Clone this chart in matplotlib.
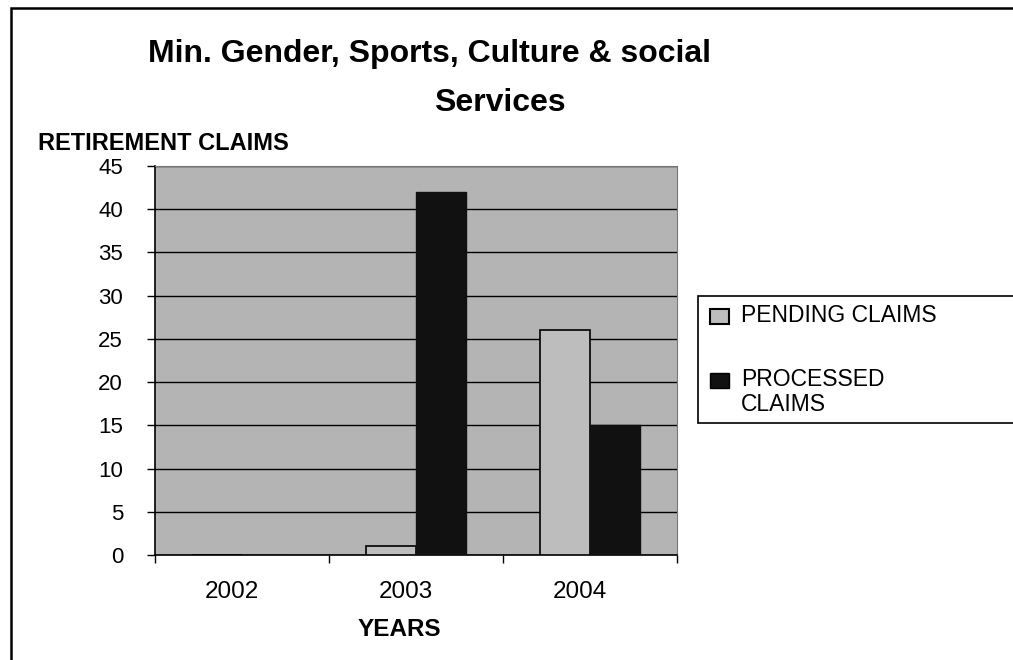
import matplotlib
matplotlib.use("Agg")
import matplotlib.pyplot as plt
from matplotlib.patches import Rectangle
from matplotlib.transforms import ScaledTranslation
import numpy as np

plt.rcParams['font.family'] = ['Liberation Sans', 'DejaVu Sans']

years = ["2002", "2003", "2004"]
pending = [0, 1, 26]
processed = [0, 42, 15]
series_labels = ["PENDING CLAIMS", "PROCESSED\nCLAIMS"]
yticks = [0, 5, 10, 15, 20, 25, 30, 35, 40, 45]

pend_color = "#bdbdbd"
proc_color = "#111111"

W, H = 1013, 660
fig = plt.figure(figsize=(W / 100, H / 100), dpi=100)
fig.patch.set_facecolor("white")


def fx(x):
    return x / W


def fy(y):
    return 1 - y / H


# outer frame (runs off the right and bottom edges)
fig.patches.append(Rectangle((fx(11), fy(700)), fx(1040 - 11), (700 - 8) / H,
                             transform=fig.transFigure, fill=False,
                             edgecolor="black", linewidth=1.8))

ax = fig.add_axes([fx(155), fy(555), fx(677 - 155), (555 - 166) / H])
ax.set_facecolor("#b4b4b4")

x = np.arange(len(years))
w = 0.29
ax.bar(x - 0.145, pending, width=w, color=pend_color, edgecolor="black",
       linewidth=1.2, zorder=3)
ax.bar(x + 0.145, processed, width=w, color=proc_color, edgecolor=proc_color,
       linewidth=1.0, zorder=3)

ax.set_xlim(-0.5, 2.5)
ax.set_ylim(0, 45)
ax.set_yticks(yticks)
ax.yaxis.grid(True, color="black", linewidth=1.0, zorder=1)
ax.set_axisbelow(True)
ax.tick_params(axis="y", direction="out", length=6, width=1, pad=17, labelsize=16)

ax.set_xticks(x)
ax.set_xticklabels(years)
ax.set_xticks([-0.5, 0.5, 1.5, 2.5], minor=True)
ax.tick_params(axis="x", which="major", length=0, pad=19, labelsize=17.5)
ax.tick_params(axis="x", which="minor", direction="out", length=6, width=1)
shift = ScaledTranslation(-10 / 100, 0, fig.dpi_scale_trans)
for lbl in ax.get_xticklabels():
    lbl.set_transform(lbl.get_transform() + shift)

for s in ["left", "bottom"]:
    ax.spines[s].set_color("black")
    ax.spines[s].set_linewidth(1.2)
for s in ["top", "right"]:
    ax.spines[s].set_color("#777777")
    ax.spines[s].set_linewidth(0.8)

fig.text(fx(148), fy(62), "Min. Gender, Sports, Culture & social",
         fontsize=23, fontweight="bold", ha="left", va="baseline")
fig.text(fx(500), fy(111), "Services",
         fontsize=23, fontweight="bold", ha="center", va="baseline")
fig.text(fx(38), fy(143), "RETIREMENT CLAIMS",
         fontsize=17, fontweight="bold", ha="left", va="center")
fig.text(fx(399), fy(630), "YEARS",
         fontsize=17.5, fontweight="bold", ha="center", va="center")

# legend box (extends past right edge, as in the original)
fig.patches.append(Rectangle((fx(698), fy(423)), fx(1040 - 698), (423 - 296) / H,
                             transform=fig.transFigure, fill=True,
                             facecolor="white", edgecolor="black", linewidth=1.2))
fig.patches.append(Rectangle((fx(710), fy(324)), fx(19), 15 / H,
                             transform=fig.transFigure, facecolor=pend_color,
                             edgecolor="black", linewidth=1.5))
fig.patches.append(Rectangle((fx(710), fy(388)), fx(19), 15 / H,
                             transform=fig.transFigure, facecolor=proc_color,
                             edgecolor="black", linewidth=1.0))
fig.text(fx(741), fy(316), series_labels[0], fontsize=16.5,
         ha="left", va="center")
fig.text(fx(741), fy(392), series_labels[1], fontsize=16.5,
         ha="left", va="center", linespacing=1.15)

fig.savefig("out.png", dpi=100, facecolor="white")
